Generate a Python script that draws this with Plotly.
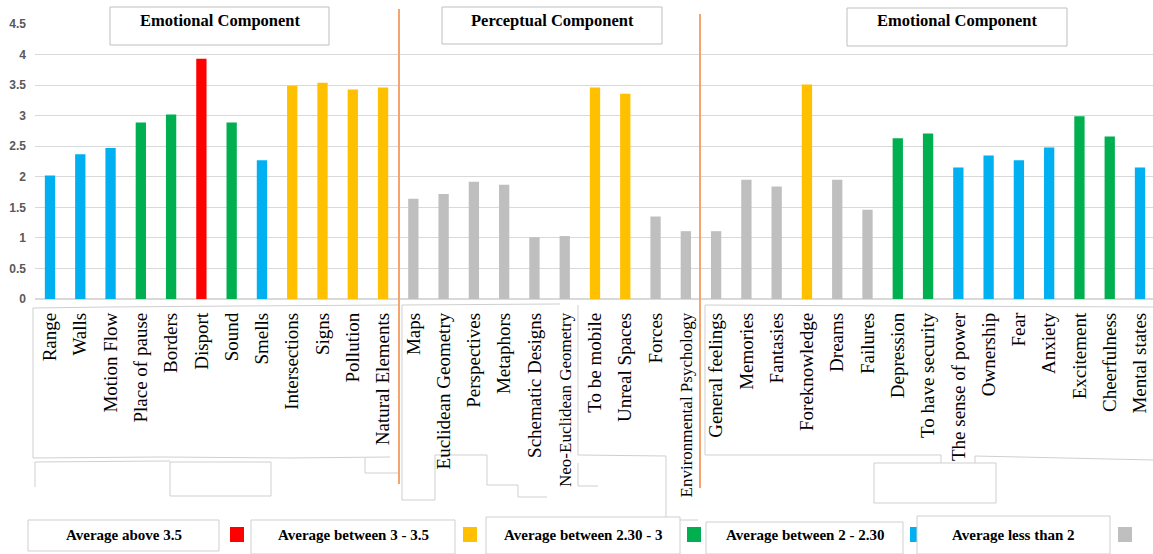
import plotly.graph_objects as go

categories = ["Range", "Walls", "Motion Flow", "Place of pause", "Borders", "Disport", "Sound", "Smells",
              "Intersections", "Signs", "Pollution", "Natural Elements",
              "Maps", "Euclidean Geometry", "Perspectives", "Metaphors", "Schematic Designs",
              "Neo-Euclidean Geometry", "To be mobile", "Unreal Spaces", "Forces", "Environmental Psychology",
              "General feelings", "Memories", "Fantasies", "Foreknowledge", "Dreams", "Failures",
              "Depression", "To have security", "The sense of power", "Ownership", "Fear", "Anxiety",
              "Excitement", "Cheerfulness", "Mental states"]
values = [2.02, 2.37, 2.47, 2.89, 3.02, 3.93, 2.89, 2.27, 3.49, 3.54, 3.43, 3.46,
          1.64, 1.72, 1.92, 1.87, 1.01, 1.03, 3.46, 3.36, 1.35, 1.11,
          1.11, 1.95, 1.84, 3.51, 1.95, 1.46,
          2.63, 2.71, 2.15, 2.35, 2.27, 2.48, 2.99, 2.66, 2.15]
groups = ["blue", "blue", "blue", "green", "green", "red", "green", "blue",
          "yellow", "yellow", "yellow", "yellow",
          "gray", "gray", "gray", "gray", "gray", "gray", "yellow", "yellow", "gray", "gray",
          "gray", "gray", "gray", "yellow", "gray", "gray",
          "green", "green", "blue", "blue", "blue", "blue", "green", "green", "blue"]
palette = {"red": "#FF0000", "yellow": "#FFC000", "green": "#00B050", "blue": "#00B0F0", "gray": "#BFBFBF"}
legend_labels = ["Average above 3.5", "Average between 3 - 3.5", "Average between 2.30 - 3",
                 "Average between 2 - 2.30", "Average less than 2"]
legend_colors = ["red", "yellow", "green", "blue", "gray"]
component_titles = ["Emotional Component", "Perceptual Component", "Emotional Component"]
y_ticks = [0, 0.5, 1, 1.5, 2, 2.5, 3, 3.5, 4, 4.5]

W, H = 1153, 554
L, Y0, Y_TOP = 35, 299, 24
FIRST_BAR_PX, LAST_BAR_PX = 50, 1140


def px(x):
    return (x - L) / (W - L)


def py(y):
    return (Y0 - y) / (Y0 - Y_TOP)


step = (LAST_BAR_PX - FIRST_BAR_PX) / (len(categories) - 1)
x_range = [(L - FIRST_BAR_PX) / step, (W - FIRST_BAR_PX) / step]

tick_text = []
for c in categories:
    if len(c) > 20:
        tick_text.append("<span style='font-size:17px'>" + c + "</span>")
    else:
        tick_text.append(c)

fig = go.Figure()
fig.add_trace(go.Bar(
    x=list(range(len(categories))), y=values,
    marker=dict(color=[palette[g] for g in groups], line=dict(width=0)),
    width=0.34,
    hovertext=categories, hoverinfo="text+y",
))

shapes = []
ann = []

# orange separators
for sx, top, bot in [(399, 9, 484), (700, 14, 488)]:
    shapes.append(dict(type="line", xref="paper", yref="paper", x0=px(sx), x1=px(sx), y0=py(top), y1=py(bot),
                       line=dict(color="#F4A46C", width=2), layer="above"))

# component title boxes
for (x0, x1, y0, y1), t in zip([(110, 329, 7, 45), (442, 662, 7, 44), (847, 1067, 8, 46)], component_titles):
    shapes.append(dict(type="rect", xref="paper", yref="paper", x0=px(x0), x1=px(x1), y0=py(y0), y1=py(y1),
                       line=dict(color="#BFBFBF", width=1), fillcolor="white", layer="above"))
    ann.append(dict(x=px((x0 + x1) / 2), y=py(21), xref="paper", yref="paper", text="<b>" + t + "</b>",
                    showarrow=False, font=dict(family="Liberation Serif", size=16.5, color="black"),
                    xanchor="center", yanchor="middle"))

# decorative text-box outlines under the labels
outline_paths = [
    [(33, 308), (33, 458), (160, 457), (290, 458), (390, 457)],
    [(33, 308), (110, 307), (240, 306), (398, 305)],
    [(35, 462), (35, 487)],
    [(35, 462), (170, 461)],
    [(365, 458), (365, 473), (398, 473)],
    [(402, 305), (402, 500), (435, 500), (435, 455), (487, 455), (487, 485), (518, 485), (518, 497), (547, 497)],
    [(402, 305), (560, 304)],
    [(578, 305), (578, 455), (666, 456), (666, 520), (698, 520)],
    [(578, 463), (578, 486), (598, 486)],
    [(705, 305), (900, 306), (1153, 307)],
    [(705, 305), (705, 455), (941, 455), (941, 463)],
    [(975, 463), (975, 456), (1153, 460)],
]
for pts in outline_paths:
    d = "M " + " L ".join(f"{px(x):.5f},{py(y):.5f}" for x, y in pts)
    shapes.append(dict(type="path", xref="paper", yref="paper", path=d,
                       line=dict(color="#CFCFCF", width=1), layer="below"))
shapes.append(dict(type="rect", xref="paper", yref="paper", x0=px(170), x1=px(271), y0=py(462), y1=py(496),
                   line=dict(color="#CFCFCF", width=1)))
shapes.append(dict(type="rect", xref="paper", yref="paper", x0=px(874), x1=px(996), y0=py(463), y1=py(503),
                   line=dict(color="#CFCFCF", width=1)))

# legend boxes
legend_boxes = [(28, 219, 520, 551), (251, 455, 520, 554), (486, 680, 517, 554), (706, 903, 522, 554),
                (917, 1110, 516, 554)]
legend_sq = [230, 463, 687, 910, 1118]
for (x0, x1, y0, y1), lab, sq, col in zip(legend_boxes, legend_labels, legend_sq, legend_colors):
    shapes.append(dict(type="rect", xref="paper", yref="paper", x0=px(x0), x1=px(x1), y0=py(y0), y1=py(y1),
                       line=dict(color="#CFCFCF", width=1), fillcolor="white"))
    ann.append(dict(x=px((x0 + x1) / 2), y=py(535), xref="paper", yref="paper", text="<b>" + lab + "</b>",
                    showarrow=False, font=dict(family="Liberation Serif", size=15, color="black"),
                    xanchor="center", yanchor="middle"))
    shapes.append(dict(type="rect", xref="paper", yref="paper", x0=px(sq), x1=px(sq + 14), y0=py(527), y1=py(542),
                       line=dict(width=0), fillcolor=palette[col]))

fig.update_layout(
    width=W, height=H,
    margin=dict(l=L, r=0, t=Y_TOP, b=H - Y0),
    paper_bgcolor="white", plot_bgcolor="white",
    showlegend=False,
    shapes=shapes, annotations=ann,
    xaxis=dict(tickmode="array", tickvals=list(range(len(categories))), ticktext=tick_text, tickangle=-90,
               tickfont=dict(family="Liberation Serif", size=19, color="black"),
               showgrid=False, ticks="", ticklabelstandoff=9, showline=False, automargin=False,
               zeroline=False, range=x_range),
    yaxis=dict(range=[0, 4.5], tickvals=y_ticks, ticktext=[f"{v:g}" for v in y_ticks],
               tickfont=dict(family="Liberation Sans", size=12, color="#595959", weight="bold"),
               showgrid=True, gridcolor="#D9D9D9", gridwidth=1, zeroline=True, zerolinecolor="#D9D9D9",
               ticklabelstandoff=8, showline=False, automargin=False),
)

fig.write_html("out.html", config={"displayModeBar": False},
               post_script="document.body.style.margin='0';document.body.style.overflow='hidden';")
